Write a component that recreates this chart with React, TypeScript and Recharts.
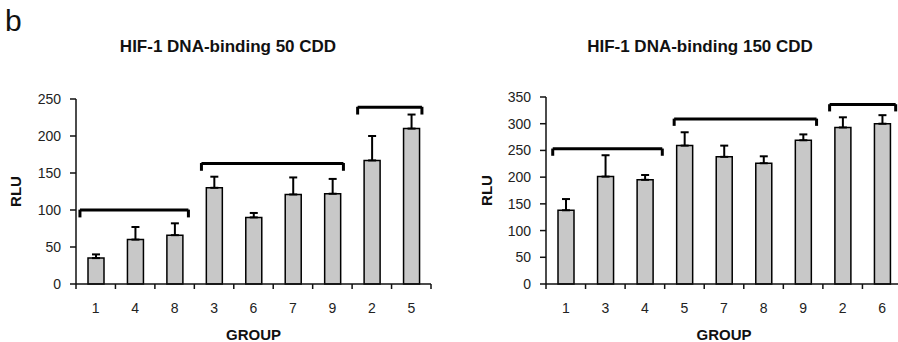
import React from "react";
import {
  BarChart,
  Bar,
  XAxis,
  YAxis,
  ErrorBar,
  ReferenceLine,
  Label,
} from "recharts";

// panel b, left: 50 CDD
const groups50 = ["1", "4", "8", "3", "6", "7", "9", "2", "5"];
const rlu50 = [35, 60, 66, 130, 90, 121, 122, 167, 210];
const sem50 = [5, 17, 16, 15, 6, 23, 20, 33, 19];
const yTicks50 = [0, 50, 100, 150, 200, 250];
// brackets: [from category, to category, height]
const brackets50 = [
  [0.1, 2.85, 100],
  [3.18, 6.78, 163],
  [7.14, 8.77, 239],
];

// panel b, right: 150 CDD
const groups150 = ["1", "3", "4", "5", "7", "8", "9", "2", "6"];
const rlu150 = [138, 201, 195, 259, 238, 226, 269, 293, 300];
const sem150 = [21, 40, 9, 25, 21, 13, 11, 19, 16];
const yTicks150 = [0, 50, 100, 150, 200, 250, 300, 350];
const brackets150 = [
  [0.17, 2.94, 253],
  [3.24, 6.84, 309],
  [7.17, 8.84, 336],
];

const FONT = "'Liberation Sans', Arial, sans-serif";

const GroupTick = (props: any) => {
  const { x, y, payload, labels, half } = props;
  const i = payload.value;
  if (i >= labels.length) return <g />;
  return (
    <text
      x={x + half}
      y={y + 22}
      textAnchor="middle"
      fontSize={14}
      fontFamily={FONT}
      fill="#222"
    >
      {labels[i]}
    </text>
  );
};

interface PanelProps {
  groups: string[];
  values: number[];
  errors: number[];
  yTicks: number[];
  brackets: number[][];
  drop: number;
  width: number;
  yAxisWidth: number;
  right: number;
  top: number;
  rluX: number;
}

const Panel: React.FC<PanelProps> = ({
  groups,
  values,
  errors,
  yTicks,
  brackets,
  drop,
  width,
  yAxisWidth,
  right,
  top,
  rluX,
}) => {
  const data = groups.map((g, i) => ({
    x: i + 0.5,
    value: values[i],
    err: [0, errors[i]],
  }));
  const plotW = width - yAxisWidth - right;
  const half = plotW / groups.length / 2;
  const height = 342;
  const plotMidY = top + (height - top - 58) / 2;

  return (
    <BarChart
      width={width}
      height={height}
      data={data}
      margin={{ top, right, bottom: 0, left: 0 }}
    >
      <XAxis
        type="number"
        dataKey="x"
        domain={[0, groups.length]}
        ticks={groups.map((_, i) => i).concat(groups.length)}
        interval={0}
        height={58}
        tickSize={5}
        tickMargin={2}
        stroke="#111"
        strokeWidth={1.5}
        tick={<GroupTick labels={groups} half={half} />}
      >
        <Label
          content={() => (
            <text
              x={yAxisWidth + plotW / 2}
              y={height - 2}
              textAnchor="middle"
              fontSize={15}
              fontWeight="bold"
              fontFamily={FONT}
              fill="#111"
            >
              GROUP
            </text>
          )}
        />
      </XAxis>
      <YAxis
        type="number"
        domain={[0, yTicks[yTicks.length - 1]]}
        ticks={yTicks}
        width={yAxisWidth}
        tickSize={6}
        tickMargin={9}
        stroke="#111"
        strokeWidth={1.5}
        tick={{ fontSize: 14, fontFamily: FONT, fill: "#222" }}
      >
        <Label
          content={() => (
            <text
              x={rluX}
              y={plotMidY}
              transform={`rotate(-90 ${rluX} ${plotMidY})`}
              textAnchor="middle"
              dominantBaseline="central"
              fontSize={15}
              fontWeight="bold"
              fontFamily={FONT}
              fill="#111"
            >
              RLU
            </text>
          )}
        />
      </YAxis>
      <Bar
        dataKey="value"
        barSize={16}
        fill="#c8c8c8"
        stroke="#000"
        strokeWidth={1.5}
        isAnimationActive={false}
      >
        <ErrorBar
          dataKey="err"
          direction="y"
          width={4}
          stroke="#000"
          strokeWidth={2}
          isAnimationActive={false}
        />
      </Bar>
      {brackets.map(([a, b, h], k) => (
        <React.Fragment key={k}>
          <ReferenceLine
            segment={[
              { x: a, y: h },
              { x: b, y: h },
            ]}
            stroke="#000"
            strokeWidth={3}
            ifOverflow="visible"
          />
          <ReferenceLine
            segment={[
              { x: a, y: h + 0.5 },
              { x: a, y: h - drop },
            ]}
            stroke="#000"
            strokeWidth={3}
            ifOverflow="visible"
          />
          <ReferenceLine
            segment={[
              { x: b, y: h + 0.5 },
              { x: b, y: h - drop },
            ]}
            stroke="#000"
            strokeWidth={3}
            ifOverflow="visible"
          />
        </React.Fragment>
      ))}
    </BarChart>
  );
};

const titleStyle: React.CSSProperties = {
  position: "absolute",
  top: 37,
  fontFamily: FONT,
  fontWeight: "bold",
  fontSize: 17,
  lineHeight: "20px",
  color: "#111",
  whiteSpace: "nowrap",
  transform: "translateX(-50%)",
};

export default function App() {
  return (
    <div
      style={{
        position: "fixed",
        left: 0,
        top: 0,
        width: 898,
        height: 342,
        overflow: "hidden",
        background: "#fff",
      }}
    >
      <div
        style={{
          position: "absolute",
          left: 5,
          top: 6,
          fontFamily: FONT,
          fontSize: 30,
          lineHeight: "30px",
          color: "#111",
        }}
      >
        b
      </div>
      <div style={{ ...titleStyle, left: 228 }}>HIF-1 DNA-binding 50 CDD</div>
      <div style={{ ...titleStyle, left: 700 }}>HIF-1 DNA-binding 150 CDD</div>
      <div style={{ position: "absolute", left: 0, top: 0 }}>
        <Panel
          groups={groups50}
          values={rlu50}
          errors={sem50}
          yTicks={yTicks50}
          brackets={brackets50}
          drop={10}
          width={449}
          yAxisWidth={76}
          right={18}
          top={99}
          rluX={15}
        />
      </div>
      <div style={{ position: "absolute", left: 449, top: 0 }}>
        <Panel
          groups={groups150}
          values={rlu150}
          errors={sem150}
          yTicks={yTicks150}
          brackets={brackets150}
          drop={13}
          width={460}
          yAxisWidth={97}
          right={7}
          top={97}
          rluX={37}
        />
      </div>
    </div>
  );
}
